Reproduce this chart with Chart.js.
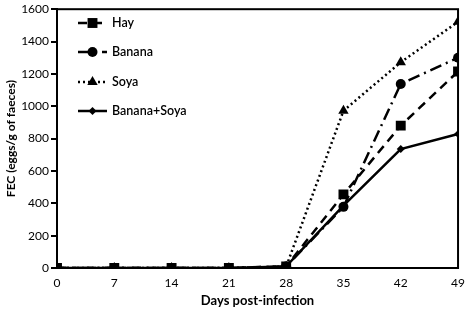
<!DOCTYPE html>
<html><head><meta charset="utf-8">
<script src="https://cdn.jsdelivr.net/npm/chart.js@4/dist/chart.umd.min.js"></script>
<style>html,body{margin:0;padding:0;background:#fff}#wrap{width:473px;height:309px}</style>
</head><body><div id="wrap"><canvas id="c" width="473" height="309"></canvas></div>
<script>
const days = [0, 7, 14, 21, 28, 35, 42, 49];
const seriesNames = ["Hay", "Banana", "Soya", "Banana+Soya"];
const hay = [0, 0, 0, 0, 10, 455, 880, 1215];
const banana = [0, 0, 0, 0, 10, 378, 1138, 1300];
const soya = [0, 0, 0, 0, 8, 972, 1272, 1522];
const bananaSoya = [0, 0, 0, 0, 10, 385, 735, 828];
const yTicks = [0, 200, 400, 600, 800, 1000, 1200, 1400, 1600];

const styles = [
  {dash: [9, 6], pt: 'rect', r: 7},
  {dash: [12, 5, 2, 5], pt: 'circle', r: 5},
  {dash: [2, 3], pt: 'triangle', r: 6},
  {dash: [], pt: 'rectRot', r: 4}
];
const values = [hay, banana, soya, bananaSoya];
const datasets = seriesNames.map((n, i) => ({
  label: n,
  data: days.map((d, k) => ({x: d, y: values[i][k]})),
  borderColor: '#000', backgroundColor: '#000',
  borderWidth: 2.5, borderDash: styles[i].dash,
  pointStyle: styles[i].pt, pointRadius: styles[i].r,
  pointBorderWidth: 0, pointBackgroundColor: '#000',
  tension: 0, fill: false
}));

const FONT = 'Lato, "Open Sans", sans-serif';

const framePlugin = {
  id: 'frame',
  afterDraw(chart) {
    const {ctx, chartArea: a} = chart;
    ctx.save();
    ctx.strokeStyle = '#000'; ctx.lineWidth = 2;
    ctx.strokeRect(a.left, a.top, a.right - a.left, a.bottom - a.top);
    const rows = [23, 52, 82, 111];
    chart.data.datasets.forEach((ds, i) => {
      const y = rows[i];
      ctx.setLineDash(ds.borderDash);
      ctx.lineWidth = 2.5; ctx.strokeStyle = '#000';
      ctx.beginPath(); ctx.moveTo(78, y); ctx.lineTo(107, y); ctx.stroke();
      ctx.setLineDash([]);
      Chart.helpers.drawPoint(ctx, {pointStyle: ds.pointStyle, radius: ds.pointRadius, rotation: 0, borderWidth: 0}, 92.5, y);
      ctx.fillStyle = '#000';
      ctx.font = '600 12.5px ' + FONT;
      ctx.textBaseline = 'middle'; ctx.textAlign = 'left';
      ctx.fillText(ds.label, 112, y);
    });
    ctx.restore();
  }
};

new Chart(document.getElementById('c'), {
  type: 'line',
  data: {datasets},
  options: {
    responsive: false, animation: false,
    layout: {padding: {top: 5, right: 6, left: 0, bottom: 0}},
    plugins: {legend: {display: false}, tooltip: {enabled: false}},
    scales: {
      x: {
        type: 'linear', min: 0, max: 49,
        afterBuildTicks: s => { s.ticks = days.map(v => ({value: v})); },
        grid: {display: false, drawTicks: false},
        border: {display: true, color: '#000', width: 2},
        ticks: {color: '#000', font: {family: FONT, size: 12}, padding: 8, maxRotation: 0, callback: v => String(v)},
        title: {display: true, text: 'Days post-infection', color: '#000', font: {family: FONT, size: 13, weight: 'bold'}, padding: {top: 3, bottom: 0}},
        afterFit: s => { s.height = 41; }
      },
      y: {
        min: 0, max: 1600,
        afterBuildTicks: s => { s.ticks = yTicks.map(v => ({value: v})); },
        grid: {display: true, drawOnChartArea: false, drawTicks: true, tickLength: 6, color: '#000', lineWidth: 2},
        border: {display: true, color: '#000', width: 2},
        ticks: {color: '#000', font: {family: FONT, size: 12}, padding: 2, callback: v => String(v)},
        title: {display: true, text: 'FEC (eggs/g of faeces)', color: '#000', font: {family: FONT, size: 12, weight: 'bold'}, padding: {bottom: 2}},
        afterFit: s => { s.width = 57; }
      }
    }
  },
  plugins: [framePlugin]
});
</script></body></html>
